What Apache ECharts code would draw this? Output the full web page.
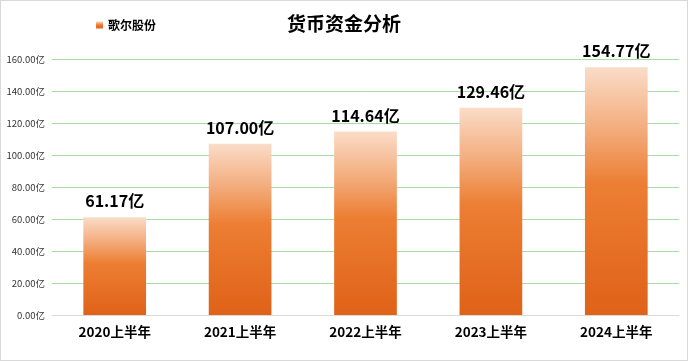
<!DOCTYPE html>
<html><head><meta charset="utf-8">
<script src="https://cdn.jsdelivr.net/npm/echarts@6/dist/echarts.min.js"></script>
<style>html,body{margin:0;padding:0;background:#fff}#c{width:688px;height:361px;box-sizing:border-box;border:1px solid #d9d9d9}</style>
</head><body><div id="c"></div>
<script>
const categories = ['2020上半年','2021上半年','2022上半年','2023上半年','2024上半年'];
const values = [61.17, 107.00, 114.64, 129.46, 154.77];
const seriesName = '歌尔股份';
const titleText = '货币资金分析';

const chart = echarts.init(document.getElementById('c'));
const grad = new echarts.graphic.LinearGradient(0,0,0,1,[
  {offset:0,color:'#fadcc8'},{offset:0.25,color:'#f3ac7c'},{offset:0.47,color:'#ec7e33'},{offset:1,color:'#df6218'}]);
chart.setOption({
  animation:false,
  title:{text:titleText,left:'center',top:8,textStyle:{fontSize:19,fontWeight:'bold',color:'#000',fontFamily:'Noto Sans CJK SC'}},
  legend:{data:[seriesName],left:90,top:13,itemWidth:7,itemHeight:7,icon:'rect',itemGap:5,
    textStyle:{fontSize:12,fontWeight:'bold',color:'#000',fontFamily:'Noto Sans CJK SC'}},
  grid:{left:51,right:8,top:58,bottom:45,containLabel:false},
  xAxis:{type:'category',data:categories,axisTick:{show:false},
    axisLine:{lineStyle:{color:'#d9d9d9'}},
    axisLabel:{fontSize:13.5,fontWeight:'bold',color:'#000',margin:10,fontFamily:'Noto Sans CJK SC'}},
  yAxis:{type:'value',min:0,max:160,interval:20,
    axisLabel:{formatter:v=>v.toFixed(2)+'亿',fontSize:9.5,color:'#333',margin:7,fontFamily:'Noto Sans CJK SC'},
    splitLine:{lineStyle:{color:'#aad9aa'}}},
  series:[{name:seriesName,type:'bar',data:values,barWidth:'50%',
    itemStyle:{color:grad},
    label:{show:true,position:'top',distance:8,formatter:p=>p.value.toFixed(2)+'亿',
      fontSize:16,fontWeight:'bold',color:'#000',fontFamily:'Noto Sans CJK SC'}}]
});
</script></body></html>
